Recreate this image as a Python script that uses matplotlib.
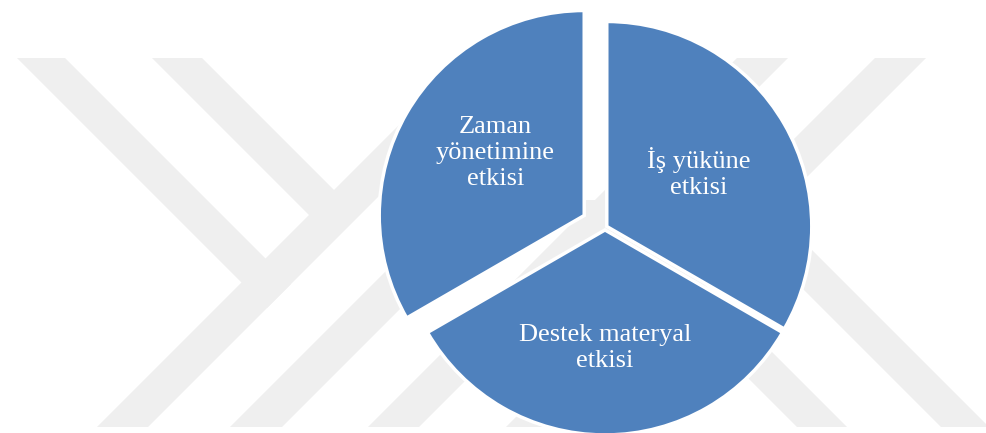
import matplotlib
matplotlib.use("Agg")
import numpy as np
import matplotlib.pyplot as plt
from matplotlib.patches import Polygon

# ---- data ----
categories = ["İş yüküne\netkisi", "Destek materyal\netkisi", "Zaman\nyönetimine\netkisi"]
values = [1, 1, 1]
explode = [0.01, 0.012, 0.117]
slice_color = "#4F81BD"

W, H = 986, 433
fig = plt.figure(figsize=(W / 100, H / 100), dpi=100)

# ---- background watermark (decorative) ----
bg = fig.add_axes([0, 0, 1, 1])
bg.set_xlim(0, W)
bg.set_ylim(H, 0)
bg.axis("off")
wm = "#efefef"


def dr(c1, c2, start, end):
    """down-right strip x-y in [c1,c2]; start/end: ('y',k) or ('s',k) for x+y=k"""
    def pt(c, b):
        kind, k = b
        if kind == "y":
            return (c + k, k)
        return ((k + c) / 2, (k - c) / 2)
    return [pt(c1, start), pt(c2, start), pt(c2, end), pt(c1, end)]


def ur(s1, s2, y_bot, y_top):
    return [(s1 - y_bot, y_bot), (s2 - y_bot, y_bot), (s2 - y_top, y_top), (s1 - y_top, y_top)]


strips = [
    dr(-41, 7, ("y", 58), ("s", 575)),
    dr(94, 144, ("y", 58), ("s", 525)),
    dr(370, 420, ("y", 200), ("y", 427)),
    dr(514, 562, ("y", 200), ("y", 427)),
    ur(524, 575, 427, 100),
    ur(657, 709, 427, 250),
    ur(795, 846, 427, 58),
    ur(933, 984, 427, 58),
]
for poly in strips:
    bg.add_patch(Polygon(poly, closed=True, facecolor=wm, edgecolor="none"))

# ---- pie ----
ax = fig.add_axes([0, 0, 1, 1])
ax.patch.set_alpha(0)
R = 205.0
cx, cy = 605.0, 227.5
wedges, texts = ax.pie(
    values, labels=categories, explode=explode, startangle=90, counterclock=False,
    colors=[slice_color] * len(values), labeldistance=0.52,
    wedgeprops=dict(edgecolor="white", linewidth=2.5),
    textprops=dict(color="white", fontsize=19, family="Liberation Serif"),
)
# label placement inside each wedge (fraction of radius, angle shift in degrees)
label_dist = [0.52, 0.575, 0.53]
label_shift = [0, 0, -5]
for w, t, d, s in zip(wedges, texts, label_dist, label_shift):
    ang = np.deg2rad((w.theta1 + w.theta2) / 2 + s)
    x0, y0 = w.center
    t.set_position((x0 + d * w.r * np.cos(ang), y0 + d * w.r * np.sin(ang)))
    t.set_ha("center")
    t.set_va("center")
    t.set_multialignment("center")
    t.set_linespacing(1.25)
ax.set_xlim(-cx / R, (W - cx) / R)
ax.set_ylim(-(H - cy) / R, cy / R)
ax.axis("off")

fig.savefig("out.png", dpi=100)
